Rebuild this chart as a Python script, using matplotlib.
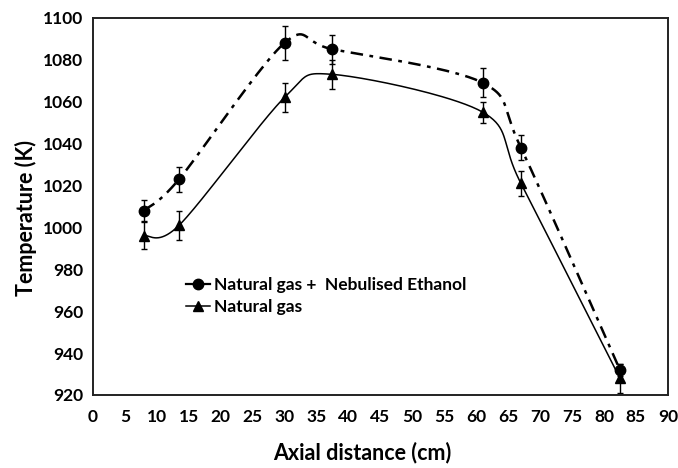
import numpy as np
import matplotlib.pyplot as plt

# axial positions (cm) and measured temperatures (K)
axial_cm = [8, 13.5, 30, 37.5, 61, 67, 82.5]
temp_ethanol = [1008, 1023, 1088, 1085, 1069, 1038, 932]
err_ethanol = [5, 6, 8, 7, 7, 6, 3]
temp_ng = [996, 1001, 1062, 1073, 1055, 1021, 928]
err_ng = [6.5, 7, 7, 7, 5, 6, 7]

x_ticks = list(range(0, 91, 5))
y_ticks = list(range(920, 1101, 20))


# Excel-style smoothed line (Catmull-Rom as cubic Bezier)
def smooth_line(x, y, n=40, k=1 / 6.5):
    p = np.column_stack([x, y]).astype(float)
    p = np.vstack([p[0], p, p[-1]])
    out = []
    t = np.linspace(0, 1, n)[:, None]
    for i in range(1, len(p) - 2):
        p0, p3 = p[i], p[i + 1]
        c1 = p0 + (p[i + 1] - p[i - 1]) * k
        c2 = p3 - (p[i + 2] - p[i]) * k
        seg = ((1 - t) ** 3) * p0 + 3 * ((1 - t) ** 2) * t * c1 \
            + 3 * (1 - t) * t ** 2 * c2 + t ** 3 * p3
        out.append(seg if i == 1 else seg[1:])
    s = np.vstack(out)
    return s[:, 0], s[:, 1]


plt.rcParams['font.family'] = ['Lato', 'DejaVu Sans']
plt.rcParams['font.weight'] = 'bold'

fig = plt.figure(figsize=(6.78, 4.68), dpi=100)
ax = fig.add_axes([0.137, 0.156, 0.848, 0.806])

dashdot = (0, (5, 2.6, 1.5, 2.6))

sx, sy = smooth_line(axial_cm, temp_ethanol)
ax.plot(sx, sy, color='black', lw=1.8, linestyle=dashdot)
ax.errorbar(axial_cm, temp_ethanol, yerr=err_ethanol, fmt='o', color='black',
            ms=7.5, elinewidth=1, capsize=2.5, capthick=1)

sx, sy = smooth_line(axial_cm, temp_ng)
ax.plot(sx, sy, color='black', lw=1.1)
ax.errorbar(axial_cm, temp_ng, yerr=err_ng, fmt='^', color='black',
            ms=7.5, elinewidth=1, capsize=2.5, capthick=1)

# legend proxies
h1, = ax.plot([], [], color='black', lw=1.6, marker='o', ms=7.5)
h2, = ax.plot([], [], color='black', lw=1.1, marker='^', ms=7.5)
ax.legend([h1, h2], ['Natural gas +  Nebulised Ethanol', 'Natural gas'],
          loc='upper left', bbox_to_anchor=(0.135, 0.355), frameon=False,
          handlelength=1.4, handletextpad=0.2, labelspacing=0.35,
          prop={'size': 12.5, 'weight': 'bold'})

ax.set_xlim(0, 90)
ax.set_ylim(920, 1100)
ax.set_xticks(x_ticks)
ax.set_yticks(y_ticks)
ax.tick_params(length=0, labelsize=12.5)
ax.tick_params(axis='x', pad=10)
ax.tick_params(axis='y', pad=7)
for sp in ax.spines.values():
    sp.set_linewidth(1.4)
    sp.set_color('#222222')

ax.set_xlabel('Axial distance (cm)', fontsize=15.5, fontweight='bold',
              labelpad=12, x=0.468)
ax.set_ylabel('Temperature (K)', fontsize=15.5, fontweight='bold',
              labelpad=4, y=0.47)

fig.savefig('out.png', dpi=100)
